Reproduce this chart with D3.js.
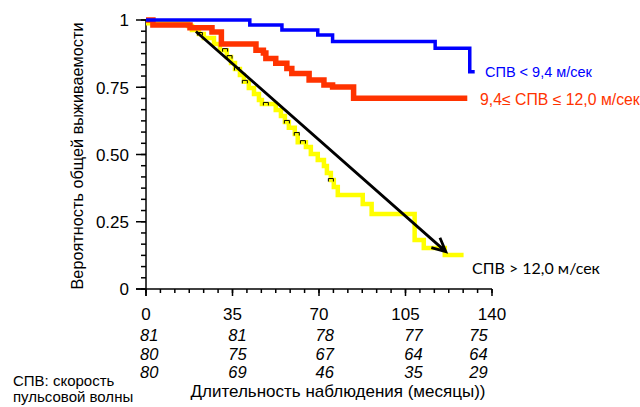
<!DOCTYPE html>
<html>
<head>
<meta charset="utf-8">
<script src="https://cdn.jsdelivr.net/npm/d3@7"></script>
<style>
  body { margin: 0; background: #fff; }
  svg text { font-family: "Liberation Sans", Arial, sans-serif; }
</style>
</head>
<body>
<div id="chart"></div>
<script>
// survival curves (months, probability)
var blueT = [0, 42, 55, 69.5, 75.5, 117, 131, 133];
var blueS = [1, 0.981, 0.963, 0.944, 0.92, 0.895, 0.808, 0.808];

var redT = [0, 2.8, 17.8, 26.7, 30.5, 44.5, 47.5, 48.5, 52.5, 57, 59, 66, 72, 75.5, 84, 130];
var redS = [1, 0.981, 0.971, 0.955, 0.911, 0.888, 0.877, 0.857, 0.839, 0.820, 0.801, 0.777, 0.758, 0.751, 0.709, 0.709];

var yellowT = [0, 17, 18.6, 21.4, 23.4, 27.5, 29.9, 32.7, 34.4, 36, 38, 39.6, 41.6, 43.7, 45.7, 46.9,
               52.5, 54.6, 56.2, 57.8, 60.2, 61.4, 64.7, 66.7, 69.5, 72, 73.2, 74.8, 76, 77.6,
               87.7, 91.3, 108.7, 112.4, 120.9, 128.5];
var yellowS = [0.988, 0.978, 0.963, 0.948, 0.933, 0.911, 0.888, 0.862, 0.840, 0.818, 0.796, 0.770, 0.747, 0.725, 0.703, 0.688,
               0.665, 0.643, 0.621, 0.599, 0.576, 0.546, 0.528, 0.502, 0.480, 0.457, 0.431, 0.405, 0.379, 0.349,
               0.316, 0.279, 0.182, 0.152, 0.126, 0.126];
var yellowCensor = [21.8, 32, 33.8, 36.8, 40, 48.5, 57, 61, 63.5, 74.8];

// trend arrow for the high PWV group
var arrowFrom = [20.2, 0.957];
var arrowTo = [121.3, 0.139];

var xTicks = [0, 35, 70, 105, 140];
var yTicks = [0, 0.25, 0.5, 0.75, 1];
var yTickLabels = ["0", "0.25", "0.50", "0.75", "1"];

// numbers at risk
var riskPos = [1.3, 37, 72.3, 108.2, 134.5];
var riskRows = [
  ["81", "81", "78", "77", "75"],
  ["80", "75", "67", "64", "64"],
  ["80", "69", "46", "35", "29"]
];

var width = 640, height = 407;

var svg = d3.select("#chart").append("svg")
  .attr("width", width)
  .attr("height", height);

var x = d3.scaleLinear().domain([0, 140]).range([146, 492]);
var y = d3.scaleLinear().domain([0, 1]).range([289, 20]);

// axes
var ax = svg.append("g").attr("stroke", "#000").attr("stroke-width", 1.5);

ax.append("line")
  .attr("x1", x(0)).attr("x2", x(0))
  .attr("y1", y(1)).attr("y2", y(0) + 7);
ax.append("line")
  .attr("x1", x(0) - 10).attr("x2", x(140))
  .attr("y1", y(0)).attr("y2", y(0));

ax.selectAll(".ymin").data(d3.range(0, 25).map(function(i) { return i / 24; }))
  .enter().append("line")
  .attr("x1", x(0) - 5).attr("x2", x(0))
  .attr("y1", function(d) { return y(d); })
  .attr("y2", function(d) { return y(d); });
ax.selectAll(".ymaj").data(yTicks)
  .enter().append("line")
  .attr("x1", x(0) - 10).attr("x2", x(0))
  .attr("y1", function(d) { return y(d); })
  .attr("y2", function(d) { return y(d); });

ax.selectAll(".xmin").data(d3.range(0, 25).map(function(i) { return i * 35 / 6; }))
  .enter().append("line")
  .attr("x1", function(d) { return x(d); })
  .attr("x2", function(d) { return x(d); })
  .attr("y1", y(0)).attr("y2", y(0) + 4);
ax.selectAll(".xmaj").data(xTicks)
  .enter().append("line")
  .attr("x1", function(d) { return x(d); })
  .attr("x2", function(d) { return x(d); })
  .attr("y1", y(0)).attr("y2", y(0) + 7);

svg.selectAll(".ylab").data(yTicks)
  .enter().append("text")
  .attr("x", x(0) - 17)
  .attr("y", function(d) { return y(d); })
  .attr("dy", "0.37em")
  .attr("text-anchor", "end")
  .attr("font-size", 17)
  .text(function(d, i) { return yTickLabels[i]; });

svg.selectAll(".xlab").data(xTicks)
  .enter().append("text")
  .attr("x", function(d) { return x(d); })
  .attr("y", 320)
  .attr("text-anchor", "middle")
  .attr("font-size", 17)
  .text(function(d) { return d; });

// curves
var line = d3.line()
  .x(function(d) { return x(d[0]); })
  .y(function(d) { return y(d[1]); })
  .curve(d3.curveStepAfter);

function pairs(t, s) {
  return t.map(function(d, i) { return [d, s[i]]; });
}

svg.append("path")
  .datum(pairs(yellowT, yellowS))
  .attr("d", line)
  .attr("fill", "none")
  .attr("stroke", "#ffff00")
  .attr("stroke-width", 4.5);

svg.append("path")
  .datum(pairs(redT, redS))
  .attr("d", line)
  .attr("fill", "none")
  .attr("stroke", "#ff3300")
  .attr("stroke-width", 5.5);

svg.append("path")
  .datum(pairs(blueT, blueS))
  .attr("d", line)
  .attr("fill", "none")
  .attr("stroke", "#0000ff")
  .attr("stroke-width", 3.5);

// censor marks on the yellow curve
var yellowAt = function(t) {
  var i = d3.bisectRight(yellowT, t) - 1;
  return yellowS[Math.max(i, 0)];
};
svg.selectAll(".cens").data(yellowCensor)
  .enter().append("path")
  .attr("d", function(d) {
    var cx = x(d), cy = y(yellowAt(d));
    return "M" + (cx - 2.5) + "," + (cy + 1.5) + "V" + (cy - 1.5) + "H" + (cx + 2.5) + "V" + (cy + 1.5);
  })
  .attr("fill", "none")
  .attr("stroke", "#000")
  .attr("stroke-width", 1);

// arrow
var ax0 = x(arrowFrom[0]), ay0 = y(arrowFrom[1]),
    ax1 = x(arrowTo[0]), ay1 = y(arrowTo[1]);
var ang = Math.atan2(ay1 - ay0, ax1 - ax0),
    headLen = 15, spread = 0.45;

svg.append("path")
  .attr("d", "M" + ax0 + "," + ay0 + "L" + ax1 + "," + ay1 +
    "M" + (ax1 - headLen * Math.cos(ang - spread)) + "," + (ay1 - headLen * Math.sin(ang - spread)) +
    "L" + ax1 + "," + ay1 +
    "L" + (ax1 - headLen * Math.cos(ang + spread)) + "," + (ay1 - headLen * Math.sin(ang + spread)))
  .attr("fill", "none")
  .attr("stroke", "#000")
  .attr("stroke-width", 2.8)
  .attr("stroke-linejoin", "miter");

// series labels
svg.append("text")
  .attr("x", 485).attr("y", 77)
  .attr("font-size", 14.5)
  .attr("fill", "#0000ff")
  .text("СПВ < 9,4 м/сек");

svg.append("text")
  .attr("x", 480).attr("y", 105)
  .attr("font-size", 15.8)
  .attr("fill", "#ff3300")
  .text("9,4≤ СПВ ≤ 12,0 м/сек");

svg.append("text")
  .attr("x", 472).attr("y", 274)
  .attr("font-size", 16)
  .style("font-family", "Lato, 'Open Sans', sans-serif")
  .attr("fill", "#000")
  .text("СПВ > 12,0 м/сек");

// numbers at risk
riskRows.forEach(function(row, r) {
  svg.selectAll(".risk" + r).data(row)
    .enter().append("text")
    .attr("x", function(d, i) { return x(riskPos[i]); })
    .attr("y", 341 + r * 18.5)
    .attr("text-anchor", "middle")
    .attr("font-size", 16.5)
    .attr("font-style", "italic")
    .text(function(d) { return d; });
});

// axis titles
svg.append("text")
  .attr("transform", "translate(83,156) rotate(-90)")
  .attr("text-anchor", "middle")
  .attr("font-size", 16.3)
  .text("Вероятность общей выживаемости");

svg.append("text")
  .attr("x", 338).attr("y", 397)
  .attr("text-anchor", "middle")
  .attr("font-size", 17)
  .text("Длительность наблюдения (месяцы))");

svg.append("text")
  .attr("x", 13).attr("y", 386)
  .attr("font-size", 15)
  .text("СПВ: скорость");
svg.append("text")
  .attr("x", 13).attr("y", 402)
  .attr("font-size", 15)
  .text("пульсовой волны");
</script>
</body>
</html>
